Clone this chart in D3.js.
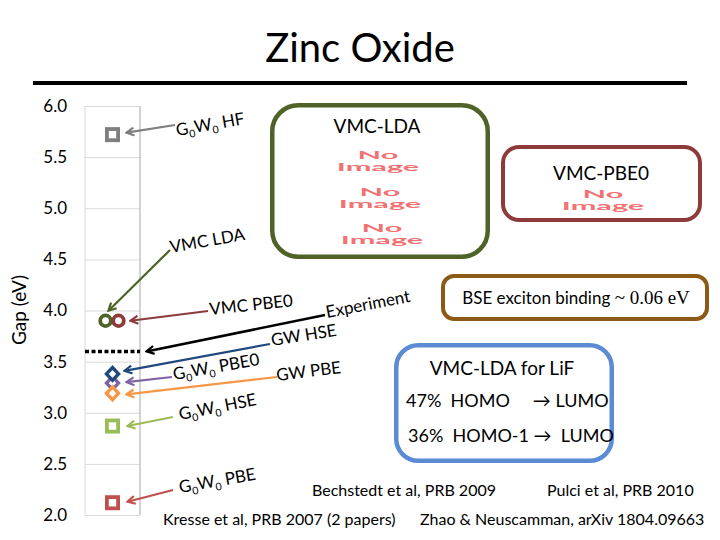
<!DOCTYPE html>
<html><head><meta charset="utf-8">
<script src="https://cdn.jsdelivr.net/npm/d3@7"></script>
<style>
body{margin:0;background:#fff}
svg{display:block}
text{font-family:Lato,"Open Sans",sans-serif}
</style>
</head><body>
<svg id="chart" width="720" height="540"></svg>
<script>
// ---------- DATA ----------
const titleText = "Zinc Oxide";
const yAxisLabel = "Gap (eV)";
const yTicks = [2.0, 2.5, 3.0, 3.5, 4.0, 4.5, 5.0, 5.5, 6.0];
const methods = ["G_0W_0 HF", "VMC LDA", "VMC PBE0", "Experiment", "GW HSE", "G_0W_0 PBE0", "GW PBE", "G_0W_0 HSE", "G_0W_0 PBE"];
const gaps    = [5.72, 3.90, 3.90, 3.60, 3.38, 3.29, 3.19, 2.87, 2.12];
const markerShapes = ["square", "circle", "circle", "dotted", "diamond", "diamond", "diamond", "square", "square"];
const seriesColors = ["#7f7f7f", "#4f6228", "#8e3a3a", "#000000", "#1f497d", "#8064a2", "#f79646", "#9bbb59", "#c0504d"];
const drawOrder = [0, 1, 2, 3, 5, 6, 4, 7, 8];
const boxTitles = ["VMC-LDA", "VMC-PBE0", "BSE exciton binding|~ 0.06 eV", "VMC-LDA for LiF"];
const placeholderText = ["No", "Image"];
const lifLines = ["47%  HOMO     \u2192 LUMO", "36%  HOMO-1 \u2192  LUMO"];
const references = ["Bechstedt et al, PRB 2009", "Pulci et al, PRB 2010", "Kresse et al, PRB 2007 (2 papers)", "Zhao & Neuscamman, arXiv 1804.09663"];

// ---------- LAYOUT (positions / styles only) ----------
const plot = {left: 85, right: 140, top: 106, bottom: 515};
const annot = [
  {mx: 0,  tail: [175,125], tip: [14,-2],  lab: [177,136], rot: -10},
  {mx: -7, tail: [170,250], tip: [3,-10],  lab: [171,253], rot: -10},
  {mx: 6,  tail: [208,311], tip: [12,0],   lab: [210,315], rot: -6},
  {mx: 0,  tail: [325,315], tip: [34,0],   lab: [327,318], rot: -11},
  {mx: 0,  tail: [270,344], tip: [12,-3],  lab: [272,346], rot: -9},
  {mx: 0,  tail: [172,377], tip: [14,-1],  lab: [174,380], rot: -10},
  {mx: 0,  tail: [277,377], tip: [14,1],   lab: [277,381], rot: -7},
  {mx: 0,  tail: [173,417], tip: [15,0],   lab: [180,420], rot: -11},
  {mx: 0,  tail: [173,490], tip: [15,-1],  lab: [180,493], rot: -10}
];

const svg = d3.select("#chart");

const y = d3.scaleLinear().domain([2, 6]).range([plot.bottom, plot.top]);
const x = d3.scaleBand().domain(["ZnO"]).range([plot.left, plot.right]);
const cx = x("ZnO") + x.bandwidth() / 2;

// title
svg.append("text").attr("x", 360).attr("y", 62).attr("text-anchor", "middle")
  .attr("font-size", 40).attr("fill", "#000").text(titleText);
svg.append("line").attr("x1", 33).attr("x2", 687).attr("y1", 83).attr("y2", 83)
  .attr("stroke", "#000").attr("stroke-width", 4);

// gridlines
svg.append("g").attr("transform", `translate(${plot.left},0)`)
  .call(d3.axisLeft(y).tickValues(yTicks).tickSize(-(plot.right - plot.left)).tickFormat(""))
  .call(g => g.select(".domain").remove())
  .call(g => g.selectAll("line").attr("stroke", "#d9d9d9").attr("stroke-width", 1));
svg.append("line").attr("x1", plot.left).attr("x2", plot.left).attr("y1", plot.top).attr("y2", plot.bottom)
  .attr("stroke", "#d9d9d9");
svg.append("line").attr("x1", plot.right).attr("x2", plot.right).attr("y1", plot.top).attr("y2", plot.bottom)
  .attr("stroke", "#a6a6a6");

// y axis labels
svg.append("g").attr("transform", `translate(67,0)`)
  .call(d3.axisLeft(y).tickValues(yTicks).tickSize(0).tickPadding(0).tickFormat(d3.format(".1f")))
  .call(g => g.select(".domain").remove())
  .call(g => g.selectAll("text").attr("font-size", 17).attr("fill", "#000")
    .attr("font-family", "Lato, sans-serif"));

svg.append("text").attr("transform", "translate(26,310) rotate(-90)").attr("text-anchor", "middle")
  .attr("font-size", 19).attr("fill", "#000").text(yAxisLabel);

// arrow markers
const defs = svg.append("defs");
seriesColors.forEach((c, i) => {
  defs.append("marker").attr("id", "ah" + i).attr("viewBox", "0 0 10 10")
    .attr("refX", 8.5).attr("refY", 5).attr("markerWidth", 10).attr("markerHeight", 10)
    .attr("markerUnits", "userSpaceOnUse").attr("orient", "auto")
    .append("path").attr("d", "M1,1 L8.5,5 L1,9").attr("fill", "none")
    .attr("stroke", c).attr("stroke-width", 2.2);
});

// markers (data)
const marks = svg.append("g");
drawOrder.forEach(i => {
  const shape = markerShapes[i], col = seriesColors[i];
  const px = cx + annot[i].mx, py = y(gaps[i]);
  if (shape === "square") {
    marks.append("rect").attr("x", px - 5.6).attr("y", py - 5.6).attr("width", 11.2).attr("height", 11.2)
      .attr("fill", "#fff").attr("stroke", col).attr("stroke-width", 3.8);
  } else if (shape === "circle") {
    marks.append("circle").attr("cx", px).attr("cy", py).attr("r", 5.3)
      .attr("fill", "none").attr("stroke", col).attr("stroke-width", 3.8);
  } else if (shape === "diamond") {
    marks.append("path").attr("d", "M0,-6.4 L6,0 L0,6.4 L-6,0 Z")
      .attr("transform", `translate(${px},${py})`)
      .attr("fill", "#fff").attr("stroke", col).attr("stroke-width", 3.4).attr("stroke-linejoin", "miter");
  } else if (shape === "dotted") {
    marks.append("line").attr("x1", plot.left).attr("x2", plot.right).attr("y1", py).attr("y2", py)
      .attr("stroke", col).attr("stroke-width", 3.5).attr("stroke-dasharray", "4,2.5");
  }
});

// arrows + labels
function addLabel(g, str, size) {
  const t = g.append("text").attr("font-size", size).attr("fill", "#000");
  const parts = str.split(/(_0)/);
  let sub = false;
  parts.forEach(p => {
    if (p === "") return;
    if (p === "_0") {
      t.append("tspan").attr("font-size", size * 0.62).attr("dy", 4).text("0");
      sub = true;
    } else {
      t.append("tspan").attr("dy", sub ? -4 : 0).text(p);
      sub = false;
    }
  });
}
methods.forEach((m, i) => {
  const a = annot[i];
  const px = cx + a.mx;
  const tipX = px + a.tip[0];
  const tipY = y(gaps[i]) + a.tip[1];
  svg.append("line").attr("x1", a.tail[0]).attr("y1", a.tail[1]).attr("x2", tipX).attr("y2", tipY)
    .attr("stroke", seriesColors[i]).attr("stroke-width", i === 3 ? 2.6 : 2.2)
    .attr("marker-end", `url(#ah${i})`);
  const g = svg.append("g").attr("transform", `translate(${a.lab[0]},${a.lab[1]}) rotate(${a.rot})`);
  addLabel(g, m, 17);
});

// boxes
function box(x0, y0, x1, y1, r, col, sw) {
  svg.append("rect").attr("x", x0 + sw / 2).attr("y", y0 + sw / 2)
    .attr("width", x1 - x0 - sw).attr("height", y1 - y0 - sw).attr("rx", r)
    .attr("fill", "#fff").attr("stroke", col).attr("stroke-width", sw);
}
function noImage(xc, yNo) {
  [[placeholderText[0], 0], [placeholderText[1], 12.6]].forEach(([s, dy]) => {
    svg.append("text").attr("transform", `translate(${xc},${yNo + dy}) scale(2.95,1)`)
      .attr("text-anchor", "middle").attr("font-family", "DejaVu Sans, sans-serif")
      .attr("font-weight", "bold").attr("font-size", 10.4).attr("fill", "#f07272").text(s);
  });
}
box(270, 103, 490, 259, 26, "#4f6228", 4.5);
svg.append("text").attr("x", 377).attr("y", 133).attr("text-anchor", "middle").attr("font-size", 19).text(boxTitles[0]);
noImage(378, 158.5);
noImage(380, 195.5);
noImage(382, 231.5);

box(501, 145, 702, 222, 16, "#8e3a3a", 4);
svg.append("text").attr("x", 601).attr("y", 180).attr("text-anchor", "middle").attr("font-size", 19).text(boxTitles[1]);
noImage(603, 197.5);

box(441, 274, 709, 321, 11, "#8c5a17", 4);
{
  const [a, b] = boxTitles[2].split("|");
  const t = svg.append("text").attr("x", 576).attr("y", 304).attr("text-anchor", "middle").attr("font-size", 17);
  t.append("tspan").text(a + " ");
  t.append("tspan").attr("font-family", "Liberation Serif, serif").attr("font-size", 19).text(b);
}

box(394, 343, 614, 463, 22, "#5b8bd0", 4.5);
svg.append("text").attr("x", 502).attr("y", 375).attr("text-anchor", "middle").attr("font-size", 19).text(boxTitles[3]);
svg.append("text").attr("x", 406).attr("y", 407).attr("font-size", 18)
  .style("white-space", "pre").text(lifLines[0]);
svg.append("text").attr("x", 408).attr("y", 442).attr("font-size", 18)
  .style("white-space", "pre").text(lifLines[1]);

// references
const refPos = [[312, 496], [547, 496], [163, 525], [420, 525]];
references.forEach((r, i) => {
  svg.append("text").attr("x", refPos[i][0]).attr("y", refPos[i][1]).attr("font-size", 16)
    .style("white-space", "pre").text(r);
});
</script>
</body></html>
